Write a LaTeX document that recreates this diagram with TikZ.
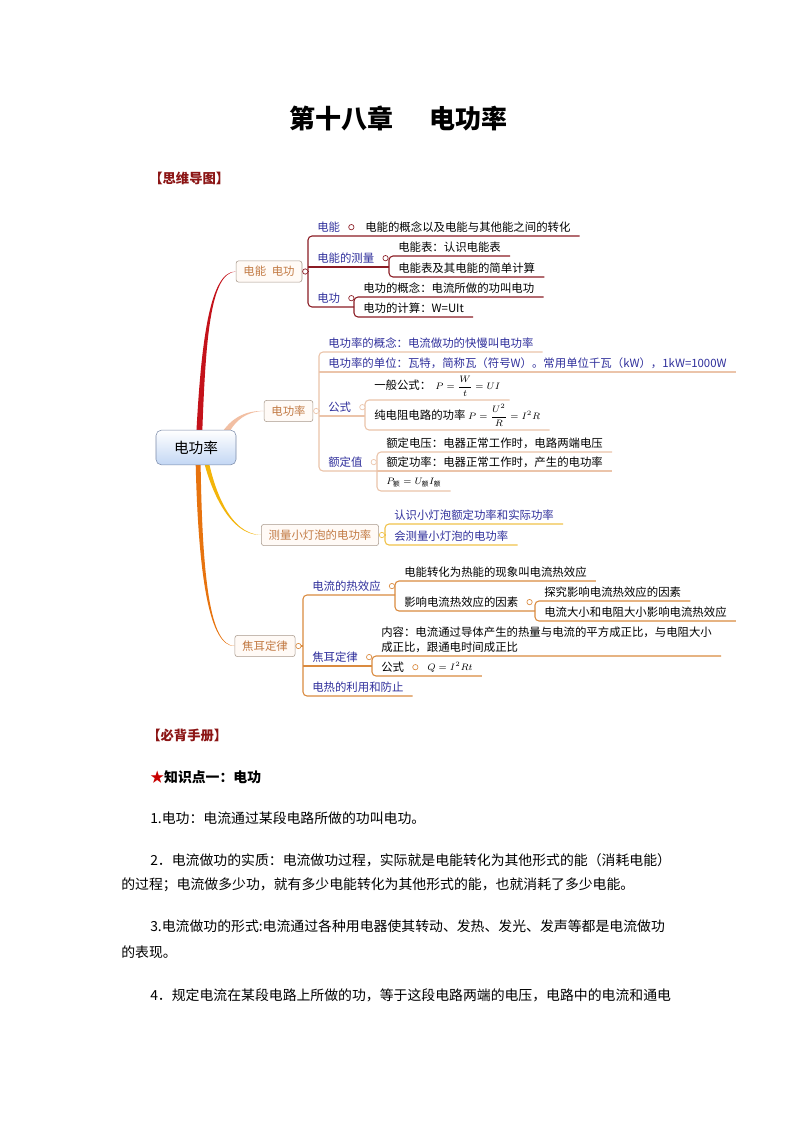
\documentclass[tikz,border=0pt]{standalone}
\usepackage{amsmath}
\usepackage{fontspec}
\setmainfont{Noto Sans CJK SC}
\usepackage{tikz}
\usetikzlibrary{calc}

\definecolor{headred}{RGB}{139,20,20}
\definecolor{starred}{RGB}{200,0,0}
\definecolor{subblue}{RGB}{48,48,156}
\definecolor{topictext}{RGB}{194,122,68}
\definecolor{topicline}{RGB}{168,154,140}
\definecolor{topicfill}{RGB}{255,250,246}
\definecolor{rootline}{RGB}{122,138,168}
\definecolor{rootblue}{RGB}{195,215,244}
\definecolor{lineAc}{RGB}{139,28,36}
\definecolor{lineBc}{RGB}{235,196,170}
\definecolor{lineCc}{RGB}{240,194,74}
\definecolor{lineDc}{RGB}{218,139,64}
\definecolor{connA}{RGB}{196,18,26}
\definecolor{connB}{RGB}{242,191,163}
\definecolor{connC}{RGB}{243,181,10}
\definecolor{connD}{RGB}{231,115,14}

\newcommand\mapfont{\fontsize{8.55pt}{11.25pt}\selectfont}
\newcommand\bodyfont{\fontsize{10.4pt}{13pt}\selectfont}
\newcommand\eqfont{\fontsize{7pt}{8pt}\selectfont}

\begin{document}
\begin{tikzpicture}[x=0.75pt, y=-0.75pt,
  title/.style={inner sep=0pt, font=\fontsize{19.5pt}{22pt}\selectfont\bfseries},
  head/.style={anchor=west, inner sep=0pt, text=headred, font=\fontsize{10pt}{12pt}\selectfont\bfseries},
  body/.style={anchor=west, inner sep=0pt, font=\bodyfont},
  root/.style={draw=rootline, rounded corners=4pt, top color=white, bottom color=rootblue,
    font=\fontsize{11pt}{13pt}\selectfont, minimum width=60pt, minimum height=26pt},
  topic/.style={draw=topicline, rounded corners=2pt, fill=topicfill, text=topictext,
    font=\mapfont, inner xsep=5.5pt, minimum height=16pt},
  item/.style={anchor=south west, inner xsep=6.75pt, inner ysep=2.5pt, font=\mapfont},
  sub/.style={item, text=subblue},
  knob/.style={circle, draw, fill=white, inner sep=0pt, minimum size=4pt, line width=0.5pt},
  lineA/.style={draw=lineAc, line width=0.8pt, rounded corners=3pt},
  lineB/.style={draw=lineBc, line width=0.8pt, rounded corners=3pt},
  lineC/.style={draw=lineCc, line width=0.8pt, rounded corners=3pt},
  lineD/.style={draw=lineDc, line width=0.8pt, rounded corners=3pt}]

\path[use as bounding box, fill=white] (0,0) rectangle (794,1123);

% headings
\node[title] (ttl) at (398.5,118) {第十八章\hspace{1.4em}电功率};
\node[head] (hd1) at (149,178) {【思维导图】};

% main topics
\coordinate (rc) at (196,447.5);
\node[topic] (t1) at (269,271.5) {电能\hspace{0.5em}电功};
\node[topic] (t2) at (288.5,411) {电功率};
\node[topic] (t3) at (320,535) {测量小灯泡的电功率};
\node[topic] (t4) at (265,646) {焦耳定律};

% tapered connectors from the centre
\fill[connA] ($(rc)+(0,-8)$) .. controls (201,340) and (210,271) .. (t1.west)
  .. controls (210,273) and (205.5,340) .. ($(rc)+(6,-8)$) -- cycle;
\fill[connB] ($(rc)+(22,-8)$) .. controls (228.5,418.5) and (245,410.3) .. (t2.west)
  .. controls (245,411.7) and (231.5,421.5) .. ($(rc)+(28,-3)$) -- cycle;
\fill[connC] ($(rc)+(6.5,8)$) .. controls (210,490) and (230,535.8) .. (t3.west)
  .. controls (230,534.2) and (214,490) .. ($(rc)+(11.5,8)$) -- cycle;
\fill[connD] ($(rc)+(-0.5,8)$) .. controls (198,580) and (210,646.8) .. (t4.west)
  .. controls (210,645.2) and (202,580) .. ($(rc)+(4.5,8)$) -- cycle;
\node[root] (r) at (rc) {电功率};

% branch: 电能 电功
\node[sub] (c11) at (308,236) {电能};
\node[item] (g111) at (356,236) {电能的概念以及电能与其他能之间的转化};
\node[sub] (c12) at (308,267) {电能的测量};
\node[item] (g121) at (389,256) {电能表：认识电能表};
\node[item] (g122) at (389,277) {电能表及其电能的简单计算};
\node[sub] (c13) at (308,307) {电功};
\node[item] (g131) at (354,297) {电功的概念：电流所做的功叫电功};
\node[item] (g132) at (354,317) {电功的计算：W=UIt};
\draw[lineA] (g111.south east) -- (c11.south west) -- (c13.south west) -- (g131.south west |- c13.south west);
\draw[lineA] (c12.south west) -- (g121.south west |- c12.south west);
\draw[lineA] (g121.south east) -- (g121.south west) -- (g122.south west) -- (g122.south east);
\draw[lineA] (g131.south east) -- (g131.south west) -- (g132.south west) -- (g132.south east);
\node[knob, draw=lineAc] (k1) at ($(t1.east)+(3,0)$) {};
\draw[lineA] (k1.east) -- (c11.south west |- k1.east);
\node[knob, draw=lineAc] (k11) at ($(c11.east)+(2,0)$) {};
\node[knob, draw=lineAc] (k12) at ($(c12.east)+(2,0)$) {};
\node[knob, draw=lineAc] (k13) at ($(c13.east)+(2,0)$) {};

% branch: 电功率
\node[sub] (c21) at (319,352) {电功率的概念：电流做功的快慢叫电功率};
\node[sub] (c22) at (319,372) {电功率的单位：瓦特，简称瓦（符号W）。常用单位千瓦（kW），1kW=1000W};
\node[sub] (c23) at (319,416) {公式};
\node[item] (g231) at (365,400) {一般公式：\hspace{3pt}{\eqfont$P=\dfrac{W}{t}=UI$}};
\node[item] (g232) at (365,430) {纯电阻电路的功率\hspace{2pt}{\eqfont$P=\dfrac{U^2}{R}=I^2R$}};
\node[sub] (c24) at (319,471) {额定值};
\node[item] (g241) at (377,452) {额定电压：电器正常工作时，电路两端电压};
\node[item] (g242) at (377,471) {额定功率：电器正常工作时，产生的电功率};
\node[item] (g243) at (377,491) {\eqfont$P_{\text{额}}=U_{\text{额}}I_{\text{额}}$};
\draw[lineB] (c21.south east) -- (c21.south west) -- (c24.south west) -- (g241.south west |- c24.south west);
\draw[lineB] (c22.south west) -- (c22.south east);
\draw[lineB] (c23.south west) -- (g231.south west |- c23.south west);
\draw[lineB] (g231.south east) -- (g231.south west) -- (g232.south west) -- (g232.south east);
\draw[lineB] (g241.south east) -- (g241.south west) -- (g243.south west) -- (g243.south east);
\draw[lineB] (g242.south west) -- (g242.south east);
\node[knob, draw=lineBc] (k2) at ($(t2.east)+(3,0)$) {};
\draw[lineB] (k2.east) -- (c21.south west |- k2.east);
\node[knob, draw=lineBc] (k23) at ($(c23.east)+(2,0)$) {};
\node[knob, draw=lineBc] (k24) at ($(c24.east)+(2,0)$) {};

% branch: 测量小灯泡的电功率
\node[sub] (c31) at (385,524) {认识小灯泡额定功率和实际功率};
\node[sub] (c32) at (385,545) {会测量小灯泡的电功率};
\draw[lineC] (c31.south east) -- (c31.south west) -- (c32.south west) -- (c32.south east);
\node[knob, draw=lineCc] (k3) at ($(t3.east)+(3,0)$) {};
\draw[lineC] (k3.east) -- (c31.south west |- k3.east);

% branch: 焦耳定律
\node[sub] (c41) at (303,595) {电流的热效应};
\node[item] (g411) at (395,581) {电能转化为热能的现象叫电流热效应};
\node[item] (g412) at (395,611) {影响电流热效应的因素};
\node[item] (h4121) at (535,601) {探究影响电流热效应的因素};
\node[item] (h4122) at (535,621) {电流大小和电阻大小影响电流热效应};
\node[sub] (c42) at (303,666) {焦耳定律};
\node[item, align=left] (g421) at (372,656) {内容：电流通过导体产生的热量与电流的平方成正比，与电阻大小\\成正比，跟通电时间成正比};
\node[item] (g422) at (372,676) {公式};
\node[item] (q422) at (418,676) {{\fontsize{7.5pt}{9pt}\selectfont$Q=I^2Rt$}};
\node[sub] (c43) at (303,696) {电热的利用和防止};
\draw[lineD] (g411.south west |- c41.south west) -- (c41.south west) -- (c43.south west) -- (c43.south east);
\draw[lineD] (c42.south west) -- (g421.south west |- c42.south west);
\draw[lineD] (g411.south east) -- (g411.south west) -- (g412.south west) -- (h4121.south west |- g412.south west);
\draw[lineD] (h4121.south east) -- (h4121.south west) -- (h4122.south west) -- (h4122.south east);
\draw[lineD] (g421.south east) -- (g421.south west) -- (g422.south west) -- (q422.south east);
\node[knob, draw=lineDc] (k4) at ($(t4.east)+(3,0)$) {};
\draw[lineD] (k4.east) -- (c41.south west |- k4.east);
\node[knob, draw=lineDc] (k41) at ($(c41.east)+(2,0)$) {};
\node[knob, draw=lineDc] (k412) at ($(g412.east)+(2,0)$) {};
\node[knob, draw=lineDc] (k42) at ($(c42.east)+(2,0)$) {};
\node[knob, draw=lineDc] (k422) at ($(g422.east)+(2,0)$) {};

% handbook text
\node[head] (hd2) at (147,735) {【必背手册】};
\node[body, font=\bodyfont\bfseries] (kp1) at (150,777) {\textcolor{starred}{★}知识点一：电功};
\node[body] (p1) at (150,818) {1.电功：电流通过某段电路所做的功叫电功。};
\node[body] (p2) at (150,860) {2．电流做功的实质：电流做功过程，实际就是电能转化为其他形式的能（消耗电能）};
\node[body] (p2b) at (121,885) {的过程；电流做多少功，就有多少电能转化为其他形式的能，也就消耗了多少电能。};
\node[body] (p3) at (150,926) {3.电流做功的形式:电流通过各种用电器使其转动、发热、发光、发声等都是电流做功};
\node[body] (p3b) at (121,952) {的表现。};
\node[body] (p4) at (150,995) {4．规定电流在某段电路上所做的功，等于这段电路两端的电压，电路中的电流和通电};
\end{tikzpicture}
\end{document}
